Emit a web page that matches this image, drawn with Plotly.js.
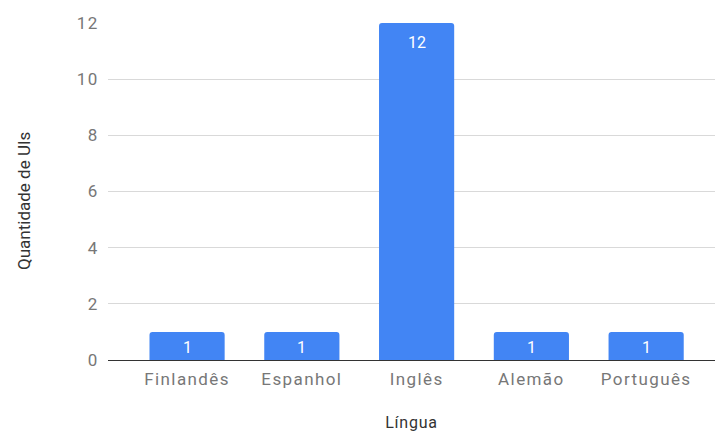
<!DOCTYPE html>
<html><head><meta charset="utf-8">
<script src="https://cdn.plot.ly/plotly-3.0.1.min.js"></script>
<style>
html,body{margin:0;padding:0;background:#fff}
.xtick text, .ytick text { letter-spacing: 1.4px; }
.g-xtitle text { letter-spacing: 0.8px; }
</style>
</head><body>
<div id="chart" style="width:715px;height:432px"></div>
<script>
const categories = ["Finlandês", "Espanhol", "Inglês", "Alemão", "Português"];
const values = [1, 1, 12, 1, 1];
const yTicks = [0, 2, 4, 6, 8, 10, 12];
const xTitle = 'Língua';
const yTitle = 'Quantidade de UIs';

const trace = {
  type: 'bar',
  x: categories,
  y: values,
  marker: {color: '#4285f4', cornerradius: 3},
  width: 0.655,
  hoverinfo: 'none'
};

const annotations = categories.map((c, i) => ({
  x: c, y: values[i], xref: 'x', yref: 'y',
  text: String(values[i]),
  showarrow: false,
  yanchor: 'top',
  yshift: values[i] >= 2 ? -8 : -4,
  font: {family: 'Roboto, Arial, sans-serif', size: 16, color: '#ffffff'}
}));
annotations.push({
  xref: 'paper', yref: 'paper', x: -0.1384, y: 0.4718,
  xanchor: 'center', yanchor: 'middle',
  text: yTitle, textangle: -90, showarrow: false,
  font: {family: 'Roboto, Arial, sans-serif', size: 17, color: '#333333'}
});

const layout = {
  width: 715, height: 432,
  margin: {l: 108, r: 0, t: 23, b: 72},
  paper_bgcolor: '#ffffff', plot_bgcolor: '#ffffff',
  showlegend: false,
  font: {family: 'Roboto, Arial, sans-serif'},
  annotations: annotations,
  xaxis: {
    type: 'category',
    range: [-0.689, 4.6],
    showgrid: false, zeroline: false, showline: false,
    ticks: 'outside', ticklen: 4, tickcolor: 'rgba(0,0,0,0)',
    tickfont: {size: 17, color: '#777777'},
    title: {text: xTitle, font: {size: 16, color: '#333333'}, standoff: 33}
  },
  yaxis: {
    range: [0, 12],
    tickvals: yTicks,
    ticktext: yTicks.map(String),
    showgrid: true, gridcolor: '#d9d9d9', gridwidth: 1,
    zeroline: true, zerolinecolor: '#333333', zerolinewidth: 1,
    showline: false,
    ticks: 'outside', ticklen: 5, tickcolor: 'rgba(0,0,0,0)',
    tickfont: {size: 17, color: '#777777'}
  }
};

Plotly.newPlot('chart', [trace], layout, {displayModeBar: false, staticPlot: true});
</script>
</body></html>
